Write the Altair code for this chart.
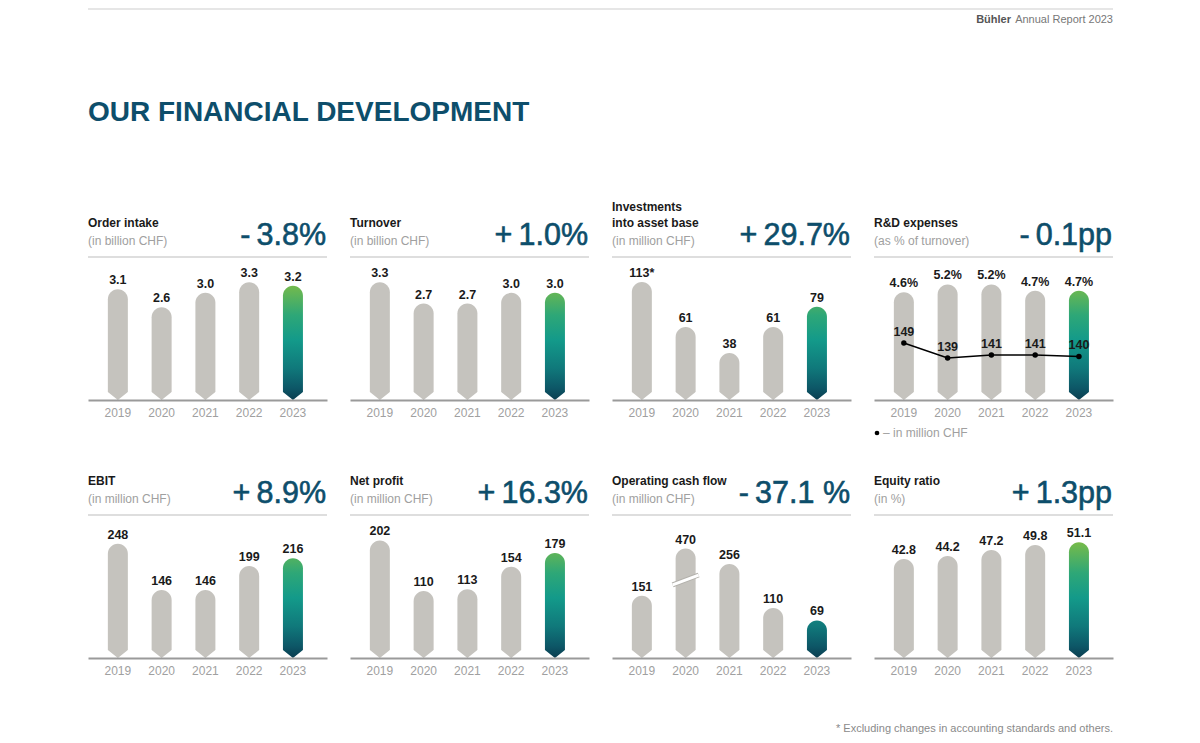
import altair as alt
import pandas as pd

# ---------------- data ----------------
YEARS = ["2019", "2020", "2021", "2022", "2023"]

TITLES = [["Order intake"], ["Turnover"], ["Investments", "into asset base"], ["R&D expenses"],
          ["EBIT"], ["Net profit"], ["Operating cash flow"], ["Equity ratio"]]
SUBTITLES = ["(in billion CHF)", "(in billion CHF)", "(in million CHF)", "(as % of turnover)",
             "(in million CHF)", "(in million CHF)", "(in million CHF)", "(in %)"]
CHANGES = ["-\u20093.8%", "+\u20091.0%", "+\u200929.7%", "-\u20090.1pp",
           "+\u20098.9%", "+\u200916.3%", "-\u200937.1\u00a0%", "+\u20091.3pp"]

ORDER_INTAKE = [3.1, 2.6, 3.0, 3.3, 3.2]
TURNOVER = [3.3, 2.7, 2.7, 3.0, 3.0]
INVESTMENTS = [113, 61, 38, 61, 79]
INVEST_NOTE = ["*", "", "", "", ""]
RD_PCT = [4.6, 5.2, 5.2, 4.7, 4.7]
RD_CHF = [149, 139, 141, 141, 140]
EBIT = [248, 146, 146, 199, 216]
NET_PROFIT = [202, 110, 113, 154, 179]
CASH_FLOW = [151, 470, 256, 110, 69]
EQUITY = [42.8, 44.2, 47.2, 49.8, 51.1]

# bars that the original draws shortened (value units)
INVEST_SHOWN = [101, 61, 38, 61, 79]
CASH_SHOWN = [151, 307, 256, 110, 69]
CASH_BREAK = 203

BRAND = "Bühler"
REPORT = "Annual Report 2023"
PAGE_TITLE = "OUR FINANCIAL DEVELOPMENT"
FOOTNOTE = "* Excluding changes in accounting standards and others."
LEGEND_RD = "\u2013 in million CHF"

# ---------------- style ----------------
FONT = "Liberation Sans"
BLUE = "#0d4e6b"
BAR_GRAY = "#c5c3be"
DARK = "#1a1a1a"
SUB_GRAY = "#a0a0a0"
W, H = 239, 200
GAP_X, GAP_Y = 23, 58
TOTAL_W = 4 * W + 3 * GAP_X

GRAD_STOPS = [(0, "#0a3d50"), (12, "#0d5767"), (32, "#10797b"), (60, "#139a8a"),
              (85, "#2ea777"), (116, "#78bb49")]


def hex2rgb(h):
    return tuple(int(h[i:i + 2], 16) for i in (1, 3, 5))


def rgb2hex(c):
    return "#%02x%02x%02x" % tuple(int(round(v)) for v in c)


def color_at(d):
    if d >= GRAD_STOPS[-1][0]:
        return GRAD_STOPS[-1][1]
    for (d0, c0), (d1, c1) in zip(GRAD_STOPS, GRAD_STOPS[1:]):
        if d0 <= d <= d1:
            t = (d - d0) / (d1 - d0)
            a, b = hex2rgb(c0), hex2rgb(c1)
            return rgb2hex([a[k] + (b[k] - a[k]) * t for k in range(3)])
    return GRAD_STOPS[0][1]


def gradient_for(h):
    ds = [d for d, _ in GRAD_STOPS if d < h] + [h]
    stops = sorted(((1 - d / h), color_at(d)) for d in ds)
    return alt.Gradient(gradient="linear", x1=0, x2=0, y1=0, y2=1,
                        stops=[alt.GradientStop(offset=o, color=c) for o, c in stops])


NOTCH = "M-1.3,-0.8 L-1,-0.8 L0,0 L1,-0.8 L1.3,-0.8 L1.3,0.2 L-1.3,0.2 Z"
SLASH = "M-1,0.38 L1,-0.38"


def one(text):
    return pd.DataFrame({"t": [text]})


def txt(text, x, y, **kw):
    return alt.Chart(one(text)).mark_text(font=FONT, **kw).encode(
        text="t:N", x=alt.value(x), y=alt.value(y))


X = alt.X("year:O", title=None,
          scale=alt.Scale(paddingInner=0.5, paddingOuter=0.48, align=0.45),
          axis=alt.Axis(labelAngle=0, ticks=False, domainColor="#9a9a9a", domainWidth=2,
                        labelColor=SUB_GRAY, labelFont=FONT, labelFontSize=12,
                        labelPadding=7, grid=False, zindex=1))


def panel(i, values, labels, domain, shown=None, extra=None, brk=None, deco=None):
    lo, hi = domain
    shown = shown or values
    df = pd.DataFrame({"year": YEARS, "value": values, "shown": shown,
                       "label": labels, "base": [lo] * 5,
                       "brk": [brk if brk is not None else lo] * 5})
    sc = alt.Scale(domain=[lo, hi], nice=False, zero=False)
    Y = alt.Y("shown:Q", scale=sc, axis=None)
    base = alt.Chart(df)
    h23 = H * (shown[-1] - lo) / (hi - lo)
    layers = []
    layers.append(base.transform_filter(alt.datum.year != "2023").mark_bar(
        size=20, color=BAR_GRAY, cornerRadiusTopLeft=10, cornerRadiusTopRight=10
    ).encode(x=X, y=Y, y2="base:Q"))
    layers.append(base.transform_filter(alt.datum.year == "2023").mark_bar(
        size=20, color=gradient_for(h23), cornerRadiusTopLeft=10, cornerRadiusTopRight=10
    ).encode(x=X, y=Y, y2="base:Q"))
    layers.append(base.mark_point(shape=NOTCH, filled=True, fill="white", size=400,
                                  opacity=1, strokeWidth=0).encode(
        x=X, y=alt.Y("base:Q", scale=sc, axis=None)))
    if brk is not None:
        bdf = base.transform_filter(alt.datum.year == "2020")
        layers.append(bdf.mark_point(shape=SLASH, filled=False, stroke="#b3b1ac",
                                     strokeWidth=5, size=676, opacity=1).encode(
            x=X, y=alt.Y("brk:Q", scale=sc, axis=None)))
        layers.append(bdf.mark_point(shape=SLASH, filled=False, stroke="white",
                                     strokeWidth=3, size=676, opacity=1).encode(
            x=X, y=alt.Y("brk:Q", scale=sc, axis=None)))
    layers.append(base.mark_text(font=FONT, fontSize=12.5, fontWeight="bold", color=DARK,
                                 baseline="alphabetic", dy=-5).encode(
        x=X, y=Y, text="label:N"))
    if extra is not None:
        layers += extra
    # panel header
    tl = TITLES[i]
    if len(tl) == 2:
        layers.append(txt(tl[0], 0, 7, align="left", baseline="middle", fontSize=12,
                          fontWeight="bold", color=DARK))
        layers.append(txt(tl[1], 0, 23, align="left", baseline="middle", fontSize=12,
                          fontWeight="bold", color=DARK))
    else:
        layers.append(txt(tl[0], 0, 23, align="left", baseline="middle", fontSize=12,
                          fontWeight="bold", color=DARK))
    layers.append(txt(SUBTITLES[i], 0, 41, align="left", baseline="middle", fontSize=12,
                      color=SUB_GRAY))
    layers.append(txt(CHANGES[i], W - 1, 45, align="right", baseline="alphabetic",
                      fontSize=30.5, color=BLUE, stroke=BLUE, strokeWidth=0.6))
    layers.append(alt.Chart(one("r")).mark_rule(color="#bdbdbd", strokeWidth=1).encode(
        x=alt.value(0), x2=alt.value(W), y=alt.value(57)))
    if deco is not None:
        layers += deco
    ch = alt.layer(*layers).properties(width=W, height=H)
    if extra is not None:
        ch = ch.resolve_scale(y="independent")
    return ch


# R&D line layers (million CHF)
rd_df = pd.DataFrame({"year": YEARS, "chf": RD_CHF, "lab": [str(v) for v in RD_CHF]})
rd_sc = alt.Scale(domain=[111, 244.3], nice=False, zero=False)
rd_base = alt.Chart(rd_df)
RY = alt.Y("chf:Q", scale=rd_sc, axis=None)
rd_extra = [
    rd_base.mark_line(color="black", strokeWidth=1.5).encode(x=X, y=RY),
    rd_base.mark_point(filled=True, color="black", size=30, opacity=1).encode(x=X, y=RY),
    rd_base.mark_text(font=FONT, fontSize=12.5, fontWeight="bold", color=DARK,
                      baseline="alphabetic", dy=-7).encode(x=X, y=RY, text="lab:N"),
    alt.Chart(one("•")).mark_point(filled=True, color="black", size=22, opacity=1).encode(
        x=alt.value(3), y=alt.value(233)),
    txt(LEGEND_RD, 9, 233, align="left", baseline="middle", fontSize=12, color=SUB_GRAY),
]

# page header (drawn above the first panel) and footnote (below the last panel)
page_header = [
    alt.Chart(one("r")).mark_rule(color="#e6e6e6", strokeWidth=2).encode(
        x=alt.value(0), x2=alt.value(TOTAL_W), y=alt.value(-191)),
    txt(BRAND, TOTAL_W - 102, -180, align="right", baseline="middle", fontSize=11,
        fontWeight="bold", color="#555555"),
    txt(REPORT, TOTAL_W, -180, align="right", baseline="middle", fontSize=11, color="#777777"),
    txt(PAGE_TITLE, 0, -79, align="left", baseline="alphabetic", fontSize=28,
        fontWeight="bold", color=BLUE),
]
page_footer = [
    txt(FOOTNOTE, W, 271, align="right", baseline="middle", fontSize=11, color="#8a8a8a"),
]

panels = [
    panel(0, ORDER_INTAKE, [f"{v:.1f}" for v in ORDER_INTAKE], (0, 5.6), deco=page_header),
    panel(1, TURNOVER, [f"{v:.1f}" for v in TURNOVER], (0, 5.6)),
    panel(2, INVESTMENTS, [f"{v}{n}" for v, n in zip(INVESTMENTS, INVEST_NOTE)],
          (-3.5, 173.5), shown=INVEST_SHOWN),
    panel(3, RD_PCT, [f"{v:.1f}%" for v in RD_PCT], (-3.83, 11.8), extra=rd_extra),
    panel(4, EBIT, [str(v) for v in EBIT], (-3.3, 436.3)),
    panel(5, NET_PROFIT, [str(v) for v in NET_PROFIT], (-11.8, 351.8)),
    panel(6, CASH_FLOW, [str(v) for v in CASH_FLOW], (-55.7, 607.4),
          shown=CASH_SHOWN, brk=CASH_BREAK),
    panel(7, EQUITY, [f"{v:.1f}" for v in EQUITY], (-6.75, 93.25), deco=page_footer),
]

chart = alt.concat(*panels, columns=4, spacing={"row": GAP_Y, "column": GAP_X},
                   bounds="flush").properties(
    padding={"left": 79, "top": 0, "right": 0, "bottom": 0},
    background="white",
).configure_view(stroke=None)

chart.save("out.html", embed_options={"renderer": "svg", "actions": False})
